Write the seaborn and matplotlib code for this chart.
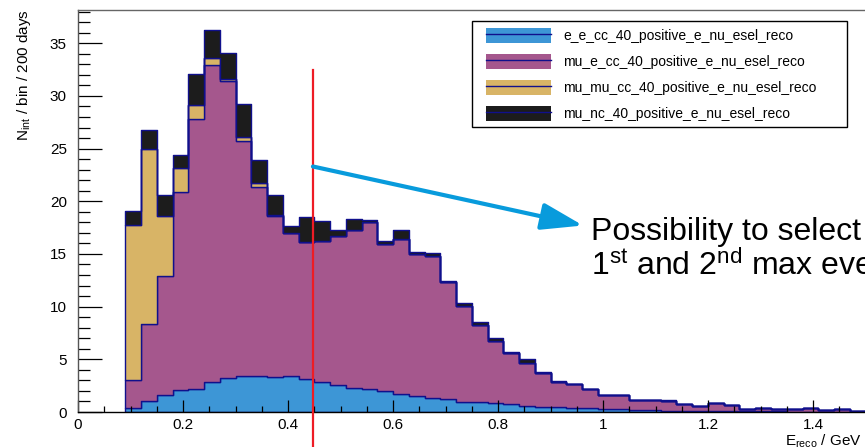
import numpy as np
import pandas as pd
import matplotlib
matplotlib.use("Agg")
import matplotlib.pyplot as plt
from matplotlib.patches import Patch, Rectangle
from matplotlib.lines import Line2D
from matplotlib.ticker import MultipleLocator
import seaborn as sns

# binning: 0.03 GeV bins starting at 0.09 GeV
bin_edges = [round(0.09 + 0.03 * i, 2) for i in range(48)]

components = ["e_e_cc_40_positive_e_nu_esel_reco",
              "mu_e_cc_40_positive_e_nu_esel_reco",
              "mu_mu_cc_40_positive_e_nu_esel_reco",
              "mu_nc_40_positive_e_nu_esel_reco"]

# events per bin, one list per component
e_e_cc = [0.35, 1.08, 1.6, 2.1, 2.2, 2.8, 3.2, 3.45, 3.45, 3.35, 3.45, 3.13, 2.8, 2.55, 2.3, 2.2,
          2.0, 1.75, 1.5, 1.3, 1.2, 0.98, 0.92, 0.82, 0.73, 0.6, 0.5, 0.5, 0.41, 0.41, 0.28, 0.28,
          0.22, 0.22, 0.13, 0.13, 0.1, 0.08, 0.08, 0.05, 0.05, 0.05, 0.03, 0.03, 0.03, 0.02, 0.02]
mu_e_cc = [2.7, 7.3, 11.3, 18.8, 25.6, 30.1, 28.2, 22.25, 17.95, 15.25, 13.5, 13.0, 13.4, 14.15, 15.0, 15.8,
           13.9, 14.65, 13.5, 13.5, 11.1, 9.1, 7.3, 5.9, 4.9, 4.05, 3.2, 2.35, 2.2, 1.8, 1.37, 1.37,
           0.88, 0.88, 0.95, 0.67, 0.47, 0.74, 0.55, 0.27, 0.36, 0.23, 0.23, 0.36, 0.17, 0.3, 0.08]
mu_mu_cc = [14.7, 16.6, 5.7, 2.3, 1.3, 0.7, 0.2, 0.4, 0.3, 0.05, 0.0, 0.0, 0.0, 0.0, 0.0, 0.0,
            0.0, 0.0, 0.0, 0.0, 0.0, 0.0, 0.0, 0.0, 0.0, 0.0, 0.0, 0.0, 0.0, 0.0, 0.0, 0.0,
            0.0, 0.0, 0.0, 0.0, 0.0, 0.0, 0.0, 0.0, 0.0, 0.0, 0.0, 0.0, 0.0, 0.0, 0.0]
mu_nc = [1.3, 1.8, 2.0, 1.2, 3.0, 2.7, 2.5, 3.1, 2.2, 1.9, 0.75, 2.4, 1.9, 0.6, 1.0, 0.2,
         0.3, 0.9, 0.2, 0.3, 0.1, 0.3, 0.3, 0.3, 0.05, 0.35, 0.07, 0.05, 0.05, 0.0, 0.0, 0.0,
         0.0, 0.0, 0.1, 0.0, 0.0, 0.0, 0.0, 0.0, 0.0, 0.0, 0.0, 0.0, 0.0, 0.0, 0.0]

colors = ["#3d96d6", "#a5578d", "#d8b466", "#1c1c1c"]
edge_color = "#10108c"

cut_value = 0.4475

plt.rcParams["font.family"] = ["Liberation Sans", "DejaVu Sans"]
plt.rcParams["mathtext.fontset"] = "custom"
plt.rcParams["mathtext.rm"] = "Liberation Sans"
plt.rcParams["mathtext.it"] = "Liberation Sans:italic"
plt.rcParams["mathtext.bf"] = "Liberation Sans:bold"

# long-form table: one row per bin per component, weighted by the bin content
centers = [e + 0.015 for e in bin_edges[:-1]]
frames = []
for name, vals in zip(components, [e_e_cc, mu_e_cc, mu_mu_cc, mu_nc]):
    frames.append(pd.DataFrame({"E": centers, "w": vals, "comp": name}))
df = pd.concat(frames, ignore_index=True)

fig = plt.figure(figsize=(8.65, 4.47), dpi=100)
ax = fig.add_axes([78 / 865, 35 / 447, 787.5 / 865, 402.5 / 447])

# seaborn stacks the first hue level on top, so reverse the order
sns.histplot(data=df, x="E", weights="w", hue="comp", hue_order=components[::-1],
             palette=dict(zip(components, colors)), bins=bin_edges, multiple="stack",
             element="step", fill=True, alpha=1, edgecolor=edge_color, linewidth=1.0,
             legend=False, ax=ax)

ax.set_xlim(0, 1.5)
ax.set_ylim(0, 38.2)
ax.xaxis.set_minor_locator(MultipleLocator(0.05))
ax.yaxis.set_major_locator(MultipleLocator(5))
ax.yaxis.set_minor_locator(MultipleLocator(1))
ax.set_xticks([0, 0.2, 0.4, 0.6, 0.8, 1.0, 1.2, 1.4])
ax.set_xticklabels(["0", "0.2", "0.4", "0.6", "0.8", "1", "1.2", "1.4"])
ax.tick_params(axis="both", which="both", direction="in", width=0.9, colors="black", labelsize=11)
ax.tick_params(axis="x", which="major", length=8.4, pad=4.5)
ax.tick_params(axis="x", which="minor", length=4)
ax.tick_params(axis="y", which="major", length=17, pad=8)
ax.tick_params(axis="y", which="minor", length=8.5)

ax.spines["right"].set_visible(False)
ax.spines["top"].set_color("#666666")
ax.spines["left"].set_color("#555555")
ax.spines["bottom"].set_color("black")
for s in ax.spines.values():
    s.set_linewidth(1.0)

ax.set_ylabel(r"N$_{\mathrm{int}}$ / bin / 200 days", fontsize=11, loc="top")
ax.yaxis.set_label_coords(-0.057, 1.0)
ax.set_xlabel(r"E$_{\mathrm{reco}}$ / GeV", fontsize=11, loc="right")
ax.xaxis.set_label_coords(0.9956, -0.05)

# legend: filled box with the histogram line through it, framed separately
handles = [(Patch(facecolor=c, edgecolor="none"), Line2D([], [], color=edge_color, lw=1.0))
           for c in colors]
ax.add_patch(Rectangle((0.5003, 0.709), 0.4765, 0.263, transform=ax.transAxes,
                       facecolor="white", edgecolor="black", lw=1.0, zorder=4))
ax.legend(handles, components, loc="upper left", bbox_to_anchor=(0.518, 0.954),
          frameon=False, fontsize=10, borderpad=0, borderaxespad=0, handlelength=4.7,
          handleheight=1.3, labelspacing=0.77, handletextpad=0.86)

# cut line and annotation
ax.plot([cut_value, cut_value], [-5, 32.45], color="#ee1c25", lw=1.6, clip_on=False, zorder=6)
ax.annotate("", xy=(0.962, 17.7), xytext=(cut_value, 23.3),
            arrowprops=dict(arrowstyle="-|>,head_length=1.7,head_width=0.55", mutation_scale=15,
                            color="#089bdc", lw=3, shrinkA=0, shrinkB=0), zorder=6)
fig.text(591 / 865, (447 - 240) / 447, "Possibility to select", fontsize=23, va="baseline", ha="left")
fig.text(591 / 865, (447 - 275) / 447, r"1$^{\mathrm{st}}$ and 2$^{\mathrm{nd}}$ max events",
         fontsize=23, va="baseline", ha="left")

fig.savefig("out.png", dpi=100)
